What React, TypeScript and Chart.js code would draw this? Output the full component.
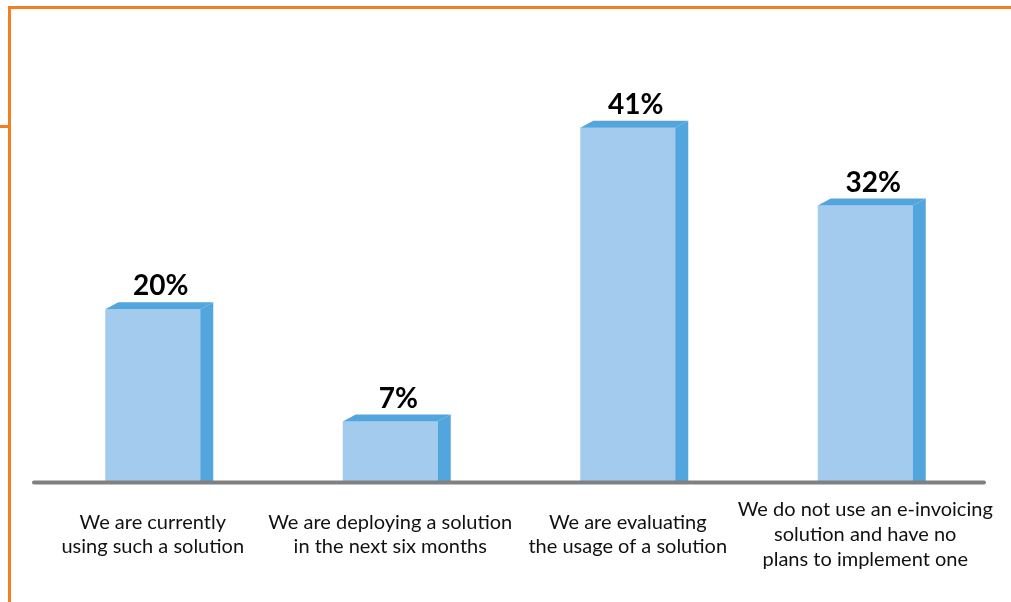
import React, { useEffect, useRef } from "react";
import { Chart, registerables } from "chart.js";

Chart.register(...registerables);

const categories: string[][] = [
  ["We are currently", "using such a solution"],
  ["We are deploying a solution", "in the next six months"],
  ["We are evaluating", "the usage of a solution"],
  ["We do not use an e-invoicing", "solution and have no", "plans to implement one"],
];
const values: number[] = [20, 7, 41, 32];
const valueLabels: string[] = ["20%", "7%", "41%", "32%"];

const FRONT = "#a2cbee";
const SIDE = "#53a5dd";
const DEPTH_X = 13;
const DEPTH_Y = 7;

const decorPlugin = {
  id: "decor",
  afterDatasetsDraw(chart: any) {
    const ctx = chart.ctx;
    const meta = chart.getDatasetMeta(0);
    const yScale = chart.scales.y;
    const xScale = chart.scales.x;
    const base = yScale.getPixelForValue(0);
    ctx.save();
    meta.data.forEach((bar: any, i: number) => {
      const { x, y, width } = bar.getProps(["x", "y", "width"], true);
      const x0 = x - width / 2;
      const x1 = x + width / 2;
      ctx.fillStyle = SIDE;
      // top face
      ctx.beginPath();
      ctx.moveTo(x0, y);
      ctx.lineTo(x1, y);
      ctx.lineTo(x1 + DEPTH_X, y - DEPTH_Y);
      ctx.lineTo(x0 + DEPTH_X, y - DEPTH_Y);
      ctx.closePath();
      ctx.fill();
      // side face
      ctx.beginPath();
      ctx.moveTo(x1, y);
      ctx.lineTo(x1 + DEPTH_X, y - DEPTH_Y);
      ctx.lineTo(x1 + DEPTH_X, base);
      ctx.lineTo(x1, base);
      ctx.closePath();
      ctx.fill();
      // value label
      ctx.fillStyle = "#000000";
      ctx.font = "bold 28px Lato, 'Open Sans', sans-serif";
      ctx.textAlign = "center";
      ctx.textBaseline = "alphabetic";
      ctx.fillText(valueLabels[i], x + 8, y - DEPTH_Y - 7);
    });
    // baseline
    ctx.strokeStyle = "#808080";
    ctx.lineWidth = 4;
    ctx.lineCap = "round";
    ctx.beginPath();
    ctx.moveTo(chart.chartArea.left, base + 0.5);
    ctx.lineTo(chart.chartArea.right, base + 0.5);
    ctx.stroke();
    // category labels
    ctx.fillStyle = "#111111";
    ctx.font = "20px Lato, 'Open Sans', sans-serif";
    ctx.textAlign = "center";
    ctx.textBaseline = "middle";
    const lineH = 24.7;
    const centerY = 534.5;
    categories.forEach((lines, i) => {
      const cx = xScale.getPixelForValue(i);
      const startY = centerY - ((lines.length - 1) * lineH) / 2;
      lines.forEach((ln, j) => {
        ctx.fillText(ln, cx, startY + j * lineH);
      });
    });
    ctx.restore();
  },
};

export default function App() {
  const ref = useRef<HTMLCanvasElement | null>(null);
  useEffect(() => {
    if (!ref.current) return;
    const chart = new Chart(ref.current, {
      type: "bar",
      data: {
        labels: categories.map((c) => c.join(" ")),
        datasets: [
          {
            data: values,
            backgroundColor: FRONT,
            borderWidth: 0,
            categoryPercentage: 1,
            barPercentage: 0.4,
          },
        ],
      },
      options: {
        responsive: false,
        animation: false,
        layout: { padding: { left: 34, right: 27, top: 50, bottom: 120 } },
        plugins: { legend: { display: false }, tooltip: { enabled: false } },
        scales: {
          x: {
            display: false,
            grid: { display: false },
          },
          y: {
            display: false,
            min: 0,
            max: 50,
          },
        },
      },
      plugins: [decorPlugin],
    });
    return () => chart.destroy();
  }, []);
  return (
    <div style={{ position: "fixed", left: 0, top: 0, width: 1011, height: 602, background: "#ffffff" }}>
      <canvas ref={ref} width={1011} height={602} style={{ position: "absolute", left: 0, top: 0 }} />
      <div style={{ position: "absolute", left: 8, top: 6, width: 1003, height: 3, background: "#f47f20" }} />
      <div style={{ position: "absolute", left: 8, top: 6, width: 3, height: 596, background: "#f47f20" }} />
      <div style={{ position: "absolute", left: 0, top: 125, width: 8, height: 3, background: "#f47f20" }} />
    </div>
  );
}
